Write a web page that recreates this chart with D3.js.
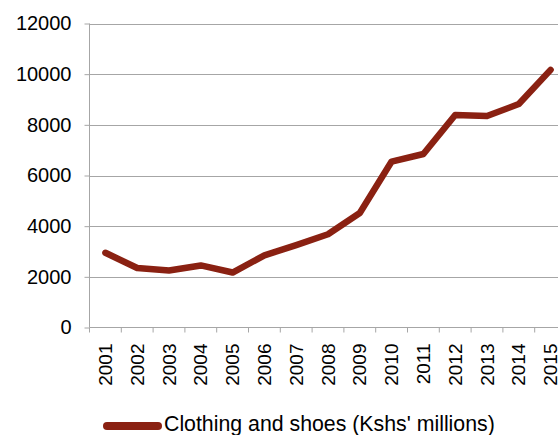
<!DOCTYPE html>
<html><head><meta charset="utf-8">
<script src="https://cdn.jsdelivr.net/npm/d3@7"></script>
<style>body{margin:0;background:#fff}svg{display:block}</style>
</head><body>
<svg id="c" width="558" height="435"></svg>
<script>
const years = ["2001","2002","2003","2004","2005","2006","2007","2008","2009","2010","2011","2012","2013","2014","2015"];
const clothing = [2950, 2350, 2250, 2450, 2170, 2850, 3250, 3680, 4520, 6550, 6850, 8390, 8350, 8820, 10170];
const yTicks = [0, 2000, 4000, 6000, 8000, 10000, 12000];
const seriesName = "Clothing and shoes (Kshs' millions)";

const svg = d3.select("#c");
const mLeft = 89.5, mRight = 566.5, mTop = 23.5, mBottom = 327.5;
const font = "'Liberation Sans', Arial, sans-serif";
const lineColor = "#8a2112";

const x = d3.scaleBand().domain(years).range([mLeft, mRight]);
const y = d3.scaleLinear().domain([0, 12000]).range([mBottom, mTop]);

// gridlines
svg.append("g").selectAll("line").data(yTicks.filter(d => d > 0)).join("line")
  .attr("x1", mLeft).attr("x2", mRight)
  .attr("y1", d => Math.round(y(d)) + 0.5).attr("y2", d => Math.round(y(d)) + 0.5)
  .attr("stroke", "#a6a6a6").attr("stroke-width", 1);

// y axis
const ya = svg.append("g").attr("transform", `translate(${mLeft},0)`)
  .call(d3.axisLeft(y).tickValues(yTicks).tickSize(5).tickPadding(13).tickFormat(d3.format("d")));
ya.select(".domain").attr("stroke", "#a6a6a6").attr("d", `M0,${mTop}V${mBottom}`);
ya.selectAll(".tick line").attr("stroke", "#a6a6a6");
ya.selectAll("text").attr("font-family", font).attr("font-size", 20).attr("fill", "#000");

// x axis
const xa = svg.append("g").attr("transform", `translate(0,${mBottom})`)
  .call(d3.axisBottom(x).tickSize(0).tickFormat(d => d));
xa.select(".domain").attr("stroke", "#a6a6a6").attr("d", `M${mLeft},0H${mRight}`);
xa.selectAll(".tick line").remove();
xa.selectAll(".tick text")
  .attr("font-family", font).attr("font-size", 19).attr("fill", "#000")
  .attr("transform", "rotate(-90)")
  .attr("text-anchor", "end")
  .attr("x", -16).attr("y", 0).attr("dy", "0.35em");
// tick marks at band boundaries
const bounds = years.map(d => x(d)).concat([mRight]);
xa.append("g").selectAll("line").data(bounds).join("line")
  .attr("x1", d => d).attr("x2", d => d).attr("y1", 0).attr("y2", 5)
  .attr("stroke", "#a6a6a6");

// line
const line = d3.line().x((d, i) => x(years[i]) + x.bandwidth() / 2).y(d => y(d));
svg.append("path").datum(clothing)
  .attr("d", line).attr("fill", "none")
  .attr("stroke", lineColor).attr("stroke-width", 6.5)
  .attr("stroke-linejoin", "round").attr("stroke-linecap", "round");

// legend
const lg = svg.append("g");
lg.append("line").attr("x1", 107).attr("x2", 158).attr("y1", 426).attr("y2", 426)
  .attr("stroke", lineColor).attr("stroke-width", 8).attr("stroke-linecap", "round");
lg.append("text").attr("x", 164).attr("y", 430.5)
  .attr("font-family", font).attr("font-size", 21.3).attr("fill", "#000")
  .text(seriesName);
</script>
</body></html>
